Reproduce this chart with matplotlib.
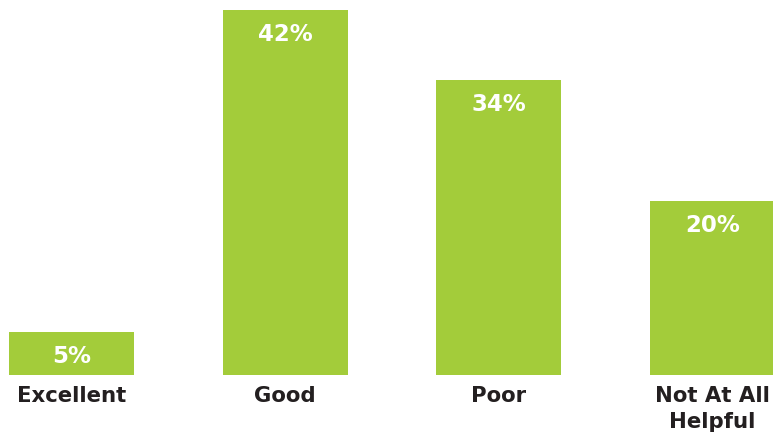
import numpy as np
import matplotlib
matplotlib.use("Agg")
from matplotlib import pyplot as plt

categories = ["Excellent", "Good", "Poor", "Not At All\nHelpful"]
values = [5, 42, 34, 20]

bar_color = "#a3cc3a"
text_color = "#231f20"

fig = plt.figure(figsize=(7.73, 4.34), dpi=100)
ax = fig.add_axes([0, 59 / 434, 1, 375 / 434])

x = np.arange(len(categories))
bars = ax.bar(x, values, width=0.585, color=bar_color)

ax.set_xlim(-0.3346, 3.283)
ax.set_ylim(0, 43.15)

# value labels inside the top of each bar
for b, v in zip(bars, values):
    ax.annotate(f"{v}%", (b.get_x() + b.get_width() / 2, v),
                xytext=(0, -13), textcoords="offset pixels",
                ha="center", va="top", color="white",
                fontsize=16.5, fontweight="bold")

# category labels under the bars
for xi, c in zip(x, categories):
    ax.annotate(c, (xi, 0), xytext=(0, -11), textcoords="offset pixels",
                ha="center", va="top", color=text_color,
                fontsize=15.3, fontweight="bold", linespacing=1.4)

ax.axis("off")
fig.savefig("out.png", dpi=100)
